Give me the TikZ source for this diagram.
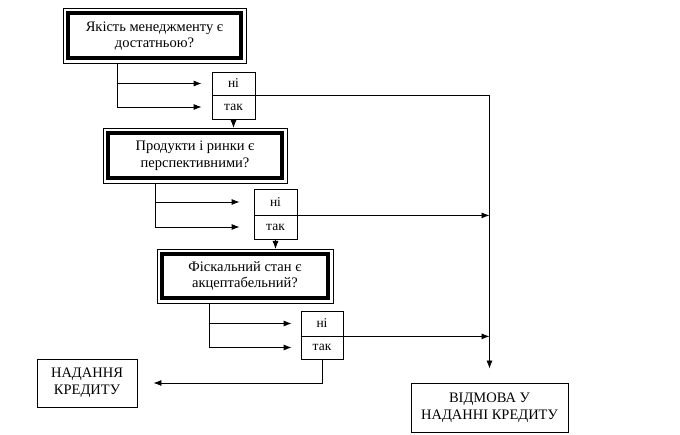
\documentclass[tikz,border=0pt]{standalone}
\usepackage{fontspec}
\setmainfont{Liberation Serif}
\usetikzlibrary{arrows.meta}

\begin{document}
\begin{tikzpicture}[x=1pt,y=-1pt]
		\useasboundingbox (0,0) rectangle (680,435);
		\begin{scope}[every node/.style={draw,line width=4pt,outer sep=5pt,align=center,
		              font=\fontsize{14.5}{16.5}\selectfont}]
		    \node[minimum width=173pt,minimum height=45pt] (q1) at (154.5,36) {Якість менеджменту є\\достатньою?};
		    \node[minimum width=174pt,minimum height=45pt] (q2) at (195,155.5) {Продукти і ринки є\\перспективними?};
		    \node[minimum width=166pt,minimum height=44pt] (q3) at (245,276) {Фіскальний стан є\\акцептабельний?};
		\end{scope}
		\foreach \q in {q1,q2,q3}
		    \draw[line width=0.8pt] (\q.north west) rectangle (\q.south east);
		
		\begin{scope}[every node/.style={draw,line width=0.8pt,minimum width=43pt,inner sep=0pt,
		              font=\fontsize{13.5}{15}\selectfont}]
		    \node[minimum height=23pt] (n1) at (233.5,83.5) {ні};
		    \node[minimum height=24pt] (t1) at (233.5,107) {так};
		    \node[minimum height=26pt] (n2) at (275.5,202) {ні};
		    \node[minimum height=24pt] (t2) at (275.5,227) {так};
		    \node[minimum height=25pt,minimum width=42pt] (n3) at (322,323.5) {ні};
		    \node[minimum height=23pt,minimum width=42pt] (t3) at (322,347.5) {так};
		\end{scope}
		\draw[line width=1.6pt] (n3.south west) -- (n3.south east);
		
		\begin{scope}[every node/.style={draw,line width=0.8pt,align=center,
		              font=\fontsize{14.5}{17}\selectfont}]
		    \node[minimum width=100pt,minimum height=48pt] (grant) at (87,383) {НАДАННЯ\\КРЕДИТУ};
		    \node[minimum width=157pt,minimum height=49pt] (refuse) at (489.5,407.5) {ВІДМОВА У\\НАДАННІ КРЕДИТУ};
		\end{scope}
		
		\begin{scope}[>={Latex[length=8pt,width=6pt]}, line width=0.8pt]
		    \draw[->,shorten >=10pt] ([xshift=-37.5pt]q1.south) |- (n1.west);
		    \draw[->,shorten >=10pt] ([xshift=-37.5pt]q1.south) |- (t1.west);
		    \draw[->] (t1.south) -- (t1.south |- q2.north);
		    \draw[->,shorten >=14pt] ([xshift=-40pt]q2.south) |- (n2.west);
		    \draw[->,shorten >=14pt] ([xshift=-40pt]q2.south) |- (t2.west);
		    \draw[->] (t2.south) -- (t2.south |- q3.north);
		    \draw[->,shorten >=9pt] ([xshift=-36pt]q3.south) |- (n3.west);
		    \draw[->,shorten >=9pt] ([xshift=-36pt]q3.south) |- (t3.west);
		    \draw[->,shorten >=14pt] (n1.south east) -| (refuse.north);
		    \draw[->] (n2.south east) -- (n2.south east -| refuse.north);
		    \draw[->] (n3.south east) -- (n3.south east -| refuse.north);
		    \draw[->,shorten >=16pt] (t3.south) |- (grant.east);
		\end{scope}
\end{tikzpicture}
\end{document}
